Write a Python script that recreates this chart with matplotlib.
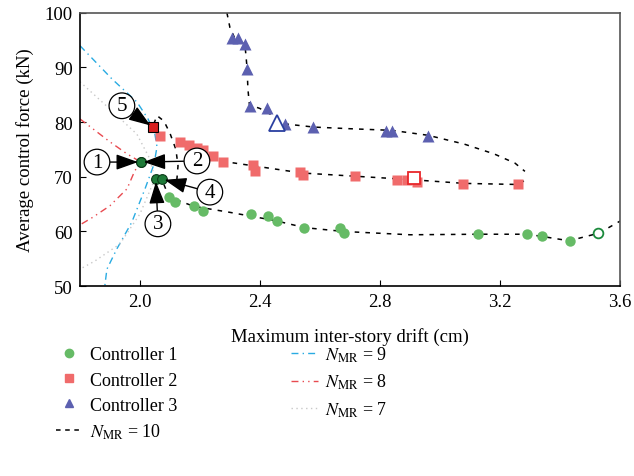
import matplotlib
matplotlib.use('Agg')
import matplotlib.pyplot as plt
from matplotlib.lines import Line2D

plt.rcParams['font.family'] = ['Liberation Serif', 'DejaVu Serif']
plt.rcParams['mathtext.fontset'] = 'stix'

# controller 1 (green circles)
c1_x = [2.097, 2.117, 2.18, 2.21, 2.37, 2.427, 2.457, 2.547, 2.667, 2.68,
        3.127, 3.29, 3.34, 3.433]
c1_y = [66.3, 65.4, 64.7, 63.7, 63.2, 62.8, 61.9, 60.6, 60.6, 59.7,
        59.5, 59.5, 59.2, 58.2]
c1_open = (3.527, 59.7)

# controller 2 (red squares)
c2_x = [2.067, 2.133, 2.163, 2.19, 2.21, 2.243, 2.277, 2.377, 2.383, 2.533,
        2.543, 2.717, 2.857, 2.89, 2.923, 3.077, 3.26]
c2_y = [77.5, 76.4, 75.8, 75.3, 74.9, 73.8, 72.7, 72.2, 71.1, 70.9,
        70.3, 70.1, 69.4, 69.4, 69.0, 68.7, 68.7]
c2_open = (2.913, 69.8)

# controller 3 (blue triangles)
c3_x = [2.307, 2.327, 2.35, 2.357, 2.367, 2.423, 2.483, 2.577, 2.82, 2.84, 2.96]
c3_y = [95.4, 95.4, 94.3, 89.7, 83.0, 82.6, 79.7, 79.1, 78.4, 78.4, 77.5]
c3_open = (2.457, 79.9)

# highlighted points 1..5
sel_x = [2.003, 2.003, 2.053, 2.073, 2.043]
sel_y = [72.7, 72.7, 69.6, 69.6, 79.1]
sel_labels = ['1', '2', '3', '4', '5']
sel_text_x = [1.857, 2.19, 2.06, 2.233, 1.94]
sel_text_y = [72.7, 72.9, 61.4, 67.2, 83.0]

# N_MR = 10 fronts
n10_g_x = [2.08, 2.097, 2.18, 2.3, 2.45, 2.55, 2.68, 2.9, 3.13, 3.29, 3.34, 3.43, 3.53, 3.6]
n10_g_y = [68.6, 66.3, 64.6, 63.5, 62.0, 60.7, 60.0, 59.4, 59.5, 59.5, 59.1, 58.3, 59.7, 61.9]
n10_r_x = [2.243, 2.28, 2.38, 2.54, 2.72, 2.9, 3.08, 3.26, 3.29]
n10_r_y = [73.9, 72.8, 72.0, 70.7, 70.1, 69.5, 68.8, 68.6, 69.6]
n10_loop_x = [2.123, 2.127, 2.12, 2.10, 2.08, 2.057, 2.045]
n10_loop_y = [69.4, 72.0, 75.0, 78.0, 80.2, 81.2, 79.5]
n10_b_x = [2.29, 2.30, 2.315, 2.35, 2.357, 2.36, 2.365, 2.40, 2.44, 2.48, 2.58,
           2.7, 2.84, 2.96, 3.08, 3.18, 3.25, 3.283]
n10_b_y = [100.0, 97.3, 95.5, 94.2, 90.0, 86.0, 83.2, 82.5, 81.3, 79.7, 79.1,
           78.8, 78.5, 77.6, 76.0, 74.2, 72.5, 71.0]

# N_MR = 9, 8, 7 fronts
n9_x = [1.8, 1.907, 1.99, 2.027, 2.05, 2.057, 2.047, 2.017, 1.973, 1.923, 1.89, 1.883]
n9_y = [94.0, 87.9, 83.7, 80.6, 77.8, 75.5, 72.3, 67.8, 61.7, 56.8, 53.1, 50.0]
n8_x = [1.8, 1.843, 1.9, 1.957, 2.003, 1.983, 1.957, 1.9, 1.843, 1.8]
n8_y = [80.6, 78.8, 76.4, 74.2, 72.7, 71.1, 67.8, 64.7, 62.6, 61.2]
n7_x = [1.8, 1.9, 1.99, 2.033, 2.05, 2.0, 1.933, 1.85, 1.8]
n7_y = [87.4, 82.4, 77.8, 73.3, 69.6, 63.2, 57.7, 54.6, 53.1]

green = '#66bb66'
red = '#f06b6b'
blue = '#5c60b0'

fig = plt.figure(figsize=(6.34, 4.77), dpi=100)
ax = fig.add_axes([0.126, 0.398, 0.852, 0.573])

ax.plot(n9_x, n9_y, color='#29abe2', lw=1.0, dashes=(5, 3, 1, 3))
ax.plot(n8_x, n8_y, color='#e84a50', lw=1.0, dashes=(5, 3, 1, 3, 1, 3))
ax.plot(n7_x, n7_y, color='#c8c8c8', lw=1.0, dashes=(1, 2.5))

for xs, ys in [(n10_g_x, n10_g_y), (n10_r_x, n10_r_y), (n10_loop_x, n10_loop_y), (n10_b_x, n10_b_y)]:
    ax.plot(xs, ys, color='black', lw=1.1, dashes=(3, 4))

ax.plot(c1_x, c1_y, 'o', color=green, ms=7.5, mec='none')
ax.plot(c2_x, c2_y, 's', color=red, ms=7, mec='none')
ax.plot(c3_x, c3_y, '^', color=blue, ms=8, mec='none')
ax.plot(*c1_open, 'o', mfc='white', mec='#1b8a3c', mew=1.3, ms=7)
ax.plot(*c2_open, 's', mfc='white', mec='#e8262a', mew=1.3, ms=8)
ax.plot(*c3_open, '^', mfc='white', mec='#2a3fa0', mew=1.3, ms=11)

ax.plot(sel_x[:4], sel_y[:4], 'o', color='#1e7a38', mec='#0a3a18', mew=0.8, ms=7)
ax.plot(sel_x[4], sel_y[4], 's', color='#d82020', mec='black', mew=0.8, ms=7)

for i in range(5):
    ax.annotate(sel_labels[i], xy=(sel_x[i], sel_y[i]), xytext=(sel_text_x[i], sel_text_y[i]),
                ha='center', va='center', fontsize=15,
                bbox=dict(boxstyle='circle,pad=0.16', fc='white', ec='black', lw=0.9),
                arrowprops=dict(arrowstyle='-|>,head_length=0.9,head_width=0.32', color='black',
                                lw=1.0, mutation_scale=15, shrinkA=0, shrinkB=2))

ax.set_xlim(1.8, 3.6)
ax.set_ylim(50, 100)
ax.set_xticks([2.0, 2.4, 2.8, 3.2, 3.6])
ax.set_xticklabels(['2.0', '2.4', '2.8', '3.2', '3.6'])
ax.set_yticks([50, 60, 70, 80, 90, 100])
ax.tick_params(direction='in', length=4, labelsize=13.5, pad=5)
for s in ['top', 'right']:
    ax.spines[s].set_color('#555555')
for s in ax.spines.values():
    s.set_linewidth(1.2)
ax.set_xlabel('Maximum inter-story drift (cm)', fontsize=13.5, labelpad=12)
ax.set_ylabel('Average control force (kN)', fontsize=13.5, labelpad=8)

handles = [
    Line2D([], [], ls='none', marker='o', color=green, ms=6),
    Line2D([], [], ls='none', marker='s', color=red, ms=6),
    Line2D([], [], ls='none', marker='^', color=blue, ms=6),
    Line2D([], [], color='black', lw=1.1, dashes=(3, 3)),
    Line2D([], [], color='#29abe2', lw=1.0, dashes=(5, 3, 1, 3)),
    Line2D([], [], color='#e84a50', lw=1.0, dashes=(5, 3, 1, 3, 1, 3)),
    Line2D([], [], color='#c8c8c8', lw=1.0, dashes=(1, 2.5)),
]
labels = ['Controller 1', 'Controller 2', 'Controller 3', r'$N_{\mathrm{MR}}$ = 10',
          r'$N_{\mathrm{MR}}$ = 9', r'$N_{\mathrm{MR}}$ = 8', r'$N_{\mathrm{MR}}$ = 7']
fig.legend(handles, labels, loc='upper left', bbox_to_anchor=(0.062, 0.31), ncol=2,
           frameon=False, fontsize=13, handlelength=1.5, columnspacing=6.3,
           labelspacing=0.45, handletextpad=0.4)

fig.savefig('out.png', dpi=100)
